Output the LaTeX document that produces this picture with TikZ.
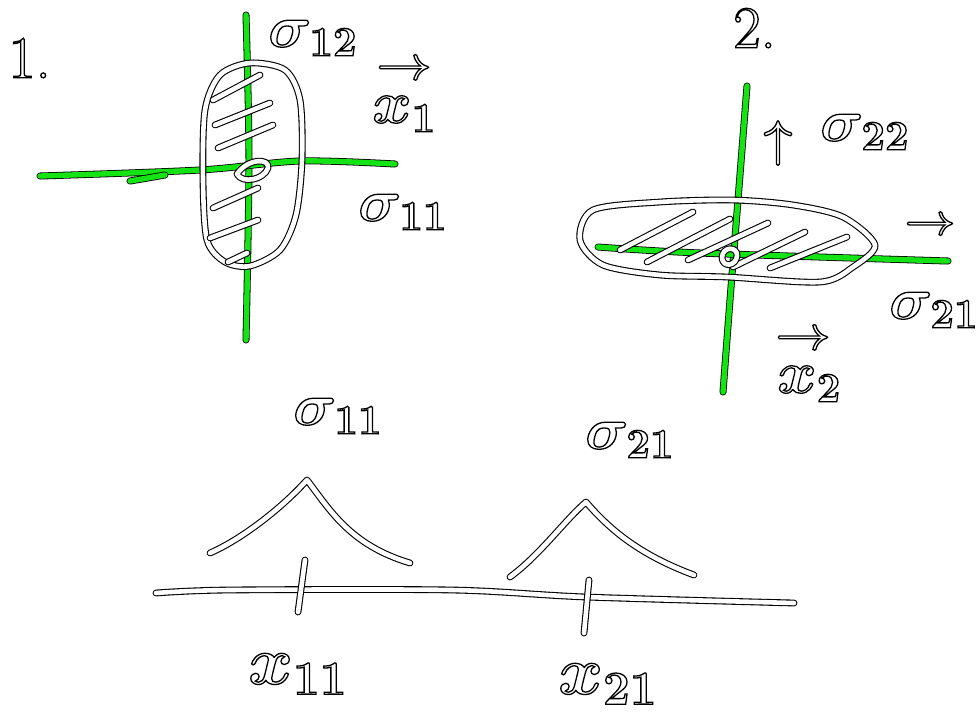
\RequirePackage{fix-cm}
\documentclass[tikz,border=0pt]{standalone}
\usepackage{amsmath,amssymb}
\usepackage{xcolor}
\usepackage{tikz}
\usetikzlibrary{calc}

\definecolor{penGreen}{RGB}{20,228,20}
\newcommand\handfont{\fontsize{60}{60}\selectfont\boldmath}
% white letters with a black rim, as the pen draws them
\newcommand\handtext[1]{\special{pdf:literal direct 2 Tr 1.3 w 0 0 0 RG 1 1 1 rg}#1\special{pdf:literal direct 0 Tr 0 0 0 RG 0 0 0 rg}}
\tikzset{
  pen/.style={draw=black, line width=1.1pt, double=white, double distance=4.6pt, line cap=round, line join=round},
  greenpen/.style={draw=black, line width=0.8pt, double=penGreen, double distance=5.4pt, line cap=round, line join=round},
  lbl/.style={anchor=west, inner sep=0pt, font=\handfont},
  arrowlbl/.style={anchor=center, inner sep=0pt, font=\fontsize{48}{48}\selectfont\boldmath}
}

\begin{document}
\begin{tikzpicture}[x=1pt,y=-1pt]
\useasboundingbox[fill=white] (0,0) rectangle (977,716);

%1. narrow in x, wide in y
\draw[greenpen] plot[smooth] coordinates {(246,15) (249,160) (246,340)};
\draw[greenpen] plot[smooth] coordinates {(40,176) (200,170) (300,161) (395,164)};
\draw[greenpen] (130,181) -- (165,175);
\draw[pen] plot[smooth cycle] coordinates {(250,63) (285,70) (300,100) (302,160) (296,215) (280,250) (250,266) (225,262) (207,240) (203,180) (205,110) (220,75)};
\foreach \xa/\ya/\xb/\yb in {213/100/260/75, 215/125/270/103, 218/148/273/125, 213/208/258/188, 210/238/258/220, 228/262/247/253}
    \draw[pen] (\xa,\ya) -- (\xb,\yb);
\draw[pen] (237,174) .. controls (248,158) and (270,158) .. (268,168) .. controls (264,180) and (242,184) .. (237,174);

\node[lbl] (one) at (8,58) {\handtext{1.}};
\node[lbl] (s12) at (268,38) {\handtext{$\sigma_{12}$}};
\node[arrowlbl] (x1arrow) at (404,70) {\handtext{$\rightarrow$}};
\node[lbl] (x1) at (372,114) {\handtext{$x_{1}$}};
\node[lbl] (s11a) at (358,212) {\handtext{$\sigma_{11}$}};

%2. wide in x, narrow in y
\draw[greenpen] plot[smooth] coordinates {(747,86) (738,200) (730,300) (723,392)};
\draw[greenpen] plot[smooth] coordinates {(598,247) (700,253) (948,261)};
\draw[pen] plot[smooth cycle] coordinates {(580,240) (593,210) (660,202) (733,200) (793,205) (843,217) (875,245) (853,267) (820,282) (727,277) (660,275) (603,265)};
\foreach \xa/\ya/\xb/\yb in {620/250/693/212, 647/262/730/219, 688/260/768/223, 733/267/805/232, 770/268/847/237}
    \draw[pen] (\xa,\ya) -- (\xb,\yb);
\draw[pen] (722,258) .. controls (722,246) and (738,246) .. (737,256) .. controls (736,266) and (723,268) .. (722,258);

\node[lbl] (two) at (733,28) {\handtext{2.}};
\node[arrowlbl, font=\fontsize{50}{50}\selectfont\boldmath] (up) at (778,143) {\handtext{$\uparrow$}};
\node[lbl] (s22) at (820,132) {\handtext{$\sigma_{22}$}};
\node[arrowlbl, font=\fontsize{44}{44}\selectfont\boldmath] (s21arrow) at (930,226) {\handtext{$\rightarrow$}};
\node[lbl] (s21a) at (889,310) {\handtext{$\sigma_{21}$}};
\node[arrowlbl] (x2arrow) at (803,340) {\handtext{$\rightarrow$}};
\node[lbl] (x2) at (777,384) {\handtext{$x_{2}$}};

%marginal densities
\draw[pen] plot[smooth] coordinates {(156,593) (229,590) (452,590) (586,597) (794,603)};
\coordinate (t1a) at (305,560);
\coordinate (t1b) at (298,612);
\coordinate (t2a) at (589,580);
\coordinate (t2b) at (584,633);
\draw[pen] (t1a) -- (t1b);
\draw[pen] (t2a) -- (t2b);
\draw[pen] (210,553) .. controls (240,540) and (280,510) .. (307,480) .. controls (330,510) and (350,545) .. (410,563);
\draw[pen] (510,577) .. controls (540,555) and (565,520) .. (586,502) .. controls (610,530) and (640,555) .. (694,575);

\node[lbl] (s11b) at (293,416) {\handtext{$\sigma_{11}$}};
\node[lbl] (s21b) at (585,440) {\handtext{$\sigma_{21}$}};
\node[lbl, font=\fontsize{68}{68}\selectfont\boldmath] (x11) at (248,674) {\handtext{$x_{11}$}};
\node[lbl, font=\fontsize{68}{68}\selectfont\boldmath] (x21) at (558,684) {\handtext{$x_{21}$}};

\end{tikzpicture}
\end{document}
